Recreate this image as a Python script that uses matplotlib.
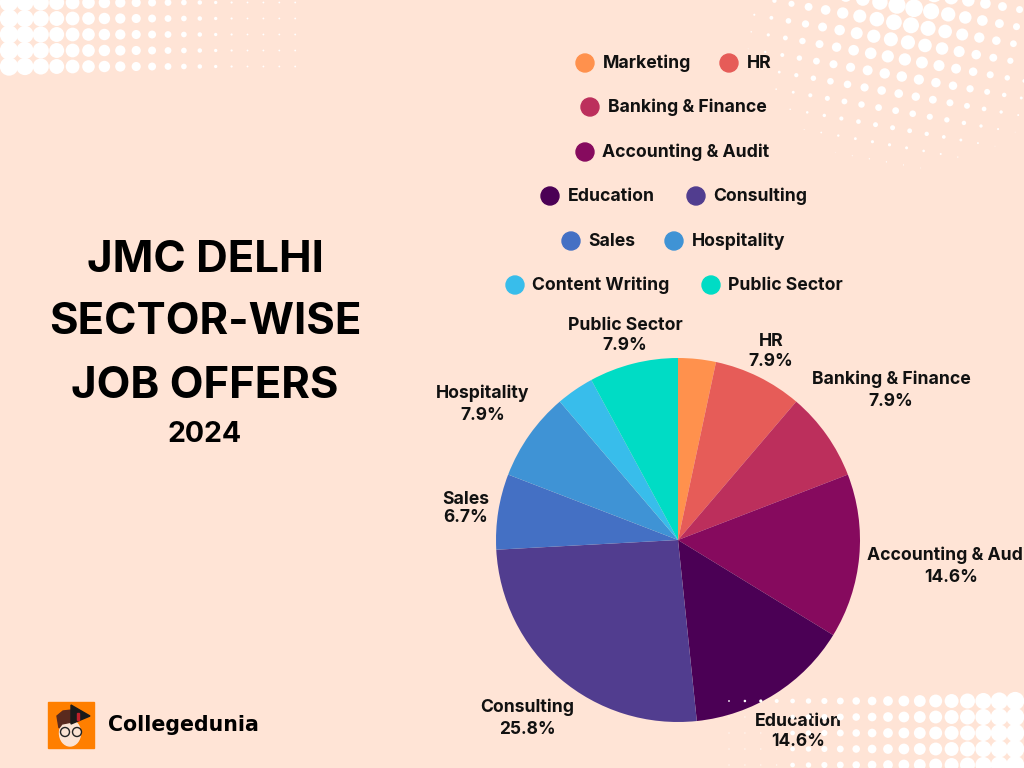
"""
JMC Delhi sector-wise job offers 2024, pie chart on a peach poster background.
Run: python plot.py
"""

import numpy as np
import matplotlib
matplotlib.use('Agg')
import matplotlib.pyplot as plt
from matplotlib.patches import Circle, Rectangle, Polygon, Ellipse

sectors = ['Marketing', 'HR', 'Banking & Finance', 'Accounting & Audit', 'Education',
           'Consulting', 'Sales', 'Hospitality', 'Content Writing', 'Public Sector']
shares = [3.35, 7.9, 7.9, 14.6, 14.6, 25.8, 6.7, 7.9, 3.35, 7.9]
colors = ['#FF914D', '#E65C58', '#BC2F5C', '#860A5E', '#4B0055',
          '#513D8F', '#4470C4', '#3F93D5', '#38BDEB', '#00DCC5']

# labelled slices only, marketing and content writing carry no label in the source
pie_labels = ['HR', 'Banking & Finance', 'Accounting & Audit', 'Education',
              'Consulting', 'Sales', 'Hospitality', 'Public Sector']

BG = '#FFE4D6'
FONT = 'Inter'
H = 768


def py(y):
    # pixel rows in the picture count from the top
    return H - y


fig = plt.figure(figsize=(10.24, 7.68), dpi=100, facecolor=BG)
ax = fig.add_axes([0, 0, 1, 1])

# the pie
wedges, _ = ax.pie(shares, colors=colors, startangle=90, counterclock=False,
                   center=(678, py(540)), radius=182, frame=True)
for w in wedges:
    w.set_zorder(2)

ax.set_xlim(0, 1024)
ax.set_ylim(0, H)
ax.set_aspect('equal')
ax.axis('off')

# slice labels: x, row of the name, row of the percentage
label_pos = {'HR': (771, 342, 361), 'Banking & Finance': (891, 379, 402),
             'Accounting & Audit': (951, 555, 578), 'Education': (798, 722, 742),
             'Consulting': (527, 707, 730), 'Sales': (466, 499, 518),
             'Hospitality': (483, 393, 416), 'Public Sector': (625, 326, 345)}
for name in pie_labels:
    x, y1, y2 = label_pos[name]
    pct = shares[sectors.index(name)]
    ax.text(x, py(y1), name, ha='center', va='center', fontsize=12.7, fontweight='bold',
            family=FONT, color='#111111', zorder=3, clip_on=True)
    ax.text(x, py(y2), f'{pct:.1f}%', ha='center', va='center', fontsize=12.5, fontweight='bold',
            family=FONT, color='#111111', zorder=3, clip_on=True)

# legend, laid out by hand in centred rows like the poster
legend_pos = {'Marketing': (585, 63), 'HR': (729, 63), 'Banking & Finance': (590, 107),
              'Accounting & Audit': (585, 152), 'Education': (550, 196), 'Consulting': (696, 196),
              'Sales': (571, 241), 'Hospitality': (674, 241), 'Content Writing': (515, 285),
              'Public Sector': (711, 285)}
for name, c in zip(sectors, colors):
    x, y = legend_pos[name]
    ax.add_patch(Circle((x, py(y)), 9, color=c, zorder=3))
    ax.text(x + 17.5, py(y + 0.5), name, ha='left', va='center', fontsize=12.7, fontweight='bold',
            family=FONT, color='#111111', zorder=3)

# headline
for line, row in zip(['JMC DELHI', 'SECTOR-WISE', 'JOB OFFERS'], [261, 323, 386]):
    ax.text(205, py(row), line, ha='center', va='center', fontsize=31.5, fontweight='bold',
            family=FONT, color='black')
ax.text(205, py(435), '2024', ha='center', va='center', fontsize=20.5, fontweight='bold',
        family=FONT, color='black')

# halftone corners, top left
for i in range(19):
    for j in range(5):
        r = max(9.2 - 0.58 * i, 0.9)
        ax.add_patch(Circle((9 + 15.9 * i, py(2.5 + 16 * j)), r, color='white', lw=0, zorder=1))

# top right, a rotated grid fading out from the top edge
for i in range(-16, 16):
    for j in range(-16, 16):
        x = 911 + 17.07 * i + 3.07 * j
        y = 25.3 + 3.07 * i - 17.07 * j
        d = np.hypot(x - 910, y)
        r = 9.33 - 0.053 * d
        if r > 0.3 and y > -10 and x < 1034:
            ax.add_patch(Circle((x, py(y)), r, color='white', lw=0, zorder=1))

# bottom right, sits on top of the pie and its label
for i in range(19):
    for j in range(5):
        x = 729 + 15.9 * i
        r = 0.9 + 0.36 * i if i <= 8 else 3.8 + 0.53 * (i - 8)
        if j > 0 and i < 4:
            r = 0.6
        ax.add_patch(Circle((x, py(701 + 16 * j)), r, color='white', lw=0, zorder=5))

# logo
ax.add_patch(Rectangle((48, py(748)), 46, 46, color='#FF7F00', zorder=3))
ax.add_patch(Ellipse((70, py(733)), 21, 26, color='#FBE3D3', zorder=4))
ax.add_patch(Polygon([(59, py(728)), (57, py(716)), (63, py(711)), (72, py(710)), (72, py(722)), (62, py(724))],
                     color='#5A2A1E', zorder=4))
ax.add_patch(Polygon([(71, py(705)), (71, py(724)), (90, py(716))], color='#1A1A1A', zorder=5))
ax.add_patch(Rectangle((77, py(720)), 1.5, 7, color='#C0202A', zorder=6))
ax.add_patch(Circle((65, py(732)), 4.5, fill=False, ec='#222222', lw=1, zorder=5))
ax.add_patch(Circle((77, py(732)), 4.5, fill=False, ec='#222222', lw=1, zorder=5))
ax.text(108, py(725), 'Collegedunia', ha='left', va='center', fontsize=14.8, fontweight='bold',
        family='DejaVu Sans', color='black', zorder=3)

fig.savefig('out.png', dpi=100, facecolor=BG)
